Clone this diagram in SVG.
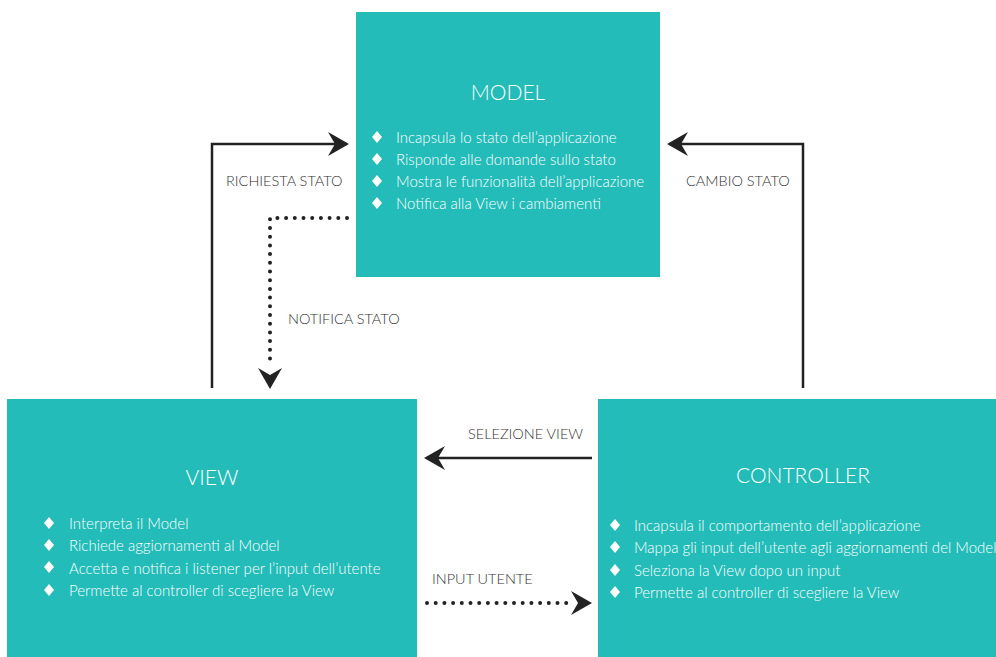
<svg xmlns="http://www.w3.org/2000/svg" width="996" height="657" viewBox="0 0 996 657">
<style>
.box{fill:#23BCB9}
.title{font-family:Lato,"Open Sans",sans-serif;font-weight:300;font-size:21px;fill:#fff;text-anchor:middle}
.item{font-family:Lato,"Open Sans",sans-serif;font-weight:300;font-size:15px;fill:#fff}
.lbl{font-family:Lato,"Open Sans",sans-serif;font-weight:300;font-size:14.5px;fill:#333}
.solid{fill:none;stroke:#222;stroke-width:2.5}
.dots{fill:none;stroke:#222;stroke-width:4;stroke-linecap:round;stroke-dasharray:0 8.7}
</style>
<defs>
<path id="dia" d="M0,-6 L5,0 L0,6 L-5,0 Z" fill="#fff"/>
<path id="ah" d="M0,0 L-21,-12 L-14,0 L-21,12 Z" fill="#222"/>
</defs>
<rect width="996" height="657" fill="#fff"/>
<g id="connectors">
<path class="solid" d="M212,388 V144 H336"/>
<use href="#ah" transform="translate(349,144)"/>
<path class="dots" d="M347,218 H270 V362"/>
<use href="#ah" transform="translate(270,389) rotate(90)"/>
<path class="solid" d="M803,388 V144 H680"/>
<use href="#ah" transform="translate(667,144) rotate(180)"/>
<path class="solid" d="M592,458 H438"/>
<use href="#ah" transform="translate(424,458) rotate(180)"/>
<path class="dots" d="M427,603 H570"/>
<use href="#ah" transform="translate(592,603)"/>
<text class="lbl" x="226" y="186">RICHIESTA STATO</text>
<text class="lbl" x="686" y="186">CAMBIO STATO</text>
<text class="lbl" x="288" y="324">NOTIFICA STATO</text>
<text class="lbl" x="468" y="439">SELEZIONE VIEW</text>
<text class="lbl" x="432" y="584">INPUT UTENTE</text>
</g>
<g id="model">
<rect class="box" x="356" y="12" width="304" height="265"/>
<text class="title" x="508" y="100">MODEL</text>
<use href="#dia" x="377" y="137"/><text class="item" x="396" y="143">Incapsula lo stato dell’applicazione</text>
<use href="#dia" x="377" y="159"/><text class="item" x="396" y="165">Risponde alle domande sullo stato</text>
<use href="#dia" x="377" y="181"/><text class="item" x="396" y="187">Mostra le funzionalità dell’applicazione</text>
<use href="#dia" x="377" y="203"/><text class="item" x="396" y="209">Notifica alla View i cambiamenti</text>
</g>
<g id="view">
<rect class="box" x="7" y="399" width="410" height="258"/>
<text class="title" x="212" y="485">VIEW</text>
<use href="#dia" x="49" y="523"/><text class="item" x="69" y="529">Interpreta il Model</text>
<use href="#dia" x="49" y="545"/><text class="item" x="69" y="551">Richiede aggiornamenti al Model</text>
<use href="#dia" x="49" y="567"/><text class="item" x="69" y="574">Accetta e notifica i listener per l’input dell’utente</text>
<use href="#dia" x="49" y="590"/><text class="item" x="69" y="596">Permette al controller di scegliere la View</text>
</g>
<g id="controller">
<rect class="box" x="598" y="399" width="398" height="258"/>
<text class="title" x="803" y="483">CONTROLLER</text>
<use href="#dia" x="615" y="525"/><text class="item" x="634" y="531">Incapsula il comportamento dell’applicazione</text>
<use href="#dia" x="615" y="547"/><text class="item" x="634" y="553">Mappa gli input dell’utente agli aggiornamenti del Model</text>
<use href="#dia" x="615" y="570"/><text class="item" x="634" y="576">Seleziona la View dopo un input</text>
<use href="#dia" x="615" y="592"/><text class="item" x="634" y="598">Permette al controller di scegliere la View</text>
</g>
</svg>
